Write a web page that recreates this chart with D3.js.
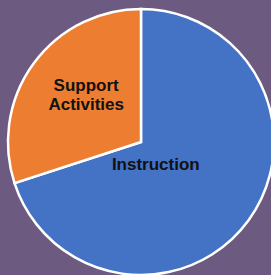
<!DOCTYPE html>
<html>
<head>
<meta charset="utf-8">
<script src="https://cdn.jsdelivr.net/npm/d3@7"></script>
<style>
  html, body { margin: 0; padding: 0; background: #6d5a80; overflow: hidden; }
  svg { display: block; }
</style>
</head>
<body>
<svg id="piechart"></svg>
<script>
// Data
var categories = ["Instruction", "Support Activities"];
var shares = [70, 30];
var colors = ["#4472c4", "#ed7d31"];

var dimensions = {
    width: 271,
    height: 275,
    cx: 141,
    cy: 142,
    radius: 133
};

var svg = d3.select("#piechart")
    .attr("width", dimensions.width)
    .attr("height", dimensions.height);

svg.append("rect")
    .attr("width", dimensions.width)
    .attr("height", dimensions.height)
    .attr("fill", "#6d5a80");

var g = svg.append("g")
    .attr("transform", `translate(${dimensions.cx}, ${dimensions.cy})`);

var pieData = categories.map((c, i) => ({ name: c, value: shares[i], color: colors[i] }));

// keep data order, clockwise from 12 o'clock
var pie = d3.pie().value(d => d.value).sort(null);
var arc = d3.arc().innerRadius(0).outerRadius(dimensions.radius);

g.selectAll("path")
    .data(pie(pieData))
    .enter()
    .append("path")
    .attr("d", arc)
    .attr("fill", d => d.data.color)
    .attr("stroke", "white")
    .attr("stroke-width", 2.5)
    .attr("stroke-linejoin", "miter");

// label placement (hand-tuned like the original slide)
var labelArc = d3.arc().innerRadius(0).outerRadius(dimensions.radius);
var labelNudge = {
    "Instruction": [-39, -11],
    "Support Activities": [-1, -12]
};
var labelLines = {
    "Instruction": ["Instruction"],
    "Support Activities": ["Support", "Activities"]
};

var labels = g.selectAll(".label")
    .data(pie(pieData))
    .enter()
    .append("text")
    .attr("class", "label")
    .attr("transform", d => {
        var c = labelArc.centroid(d);
        var n = labelNudge[d.data.name];
        return `translate(${c[0] + n[0]}, ${c[1] + n[1]})`;
    })
    .attr("text-anchor", "middle")
    .style("font-family", "'Liberation Sans', Arial, sans-serif")
    .style("font-weight", "bold")
    .style("font-size", "17px")
    .attr("fill", "#111");

labels.selectAll("tspan")
    .data(d => labelLines[d.data.name])
    .enter()
    .append("tspan")
    .attr("x", 0)
    .attr("dy", (d, i) => i === 0 ? 0 : 19)
    .text(d => d);
</script>
</body>
</html>
